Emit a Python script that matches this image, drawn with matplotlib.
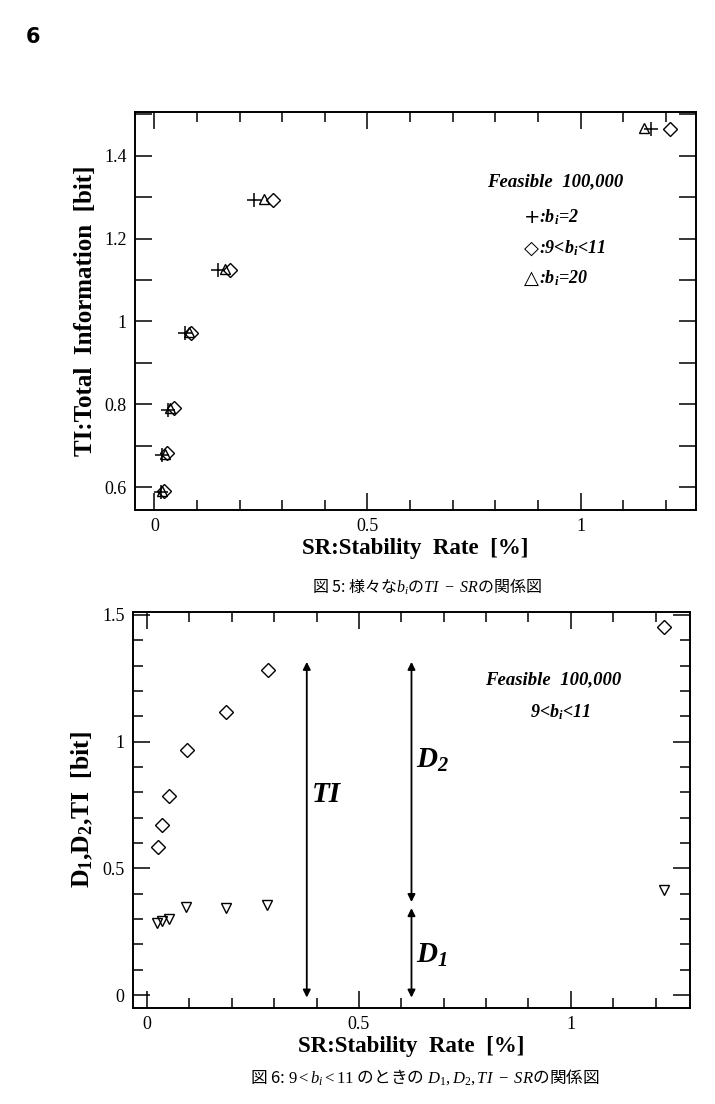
import matplotlib
matplotlib.use('Agg')
import matplotlib.pyplot as plt
from matplotlib.ticker import MultipleLocator

plt.rcParams['font.family'] = ['Liberation Serif', 'DejaVu Sans']
plt.rcParams['mathtext.fontset'] = 'custom'
plt.rcParams['mathtext.rm'] = 'Liberation Serif'
plt.rcParams['mathtext.it'] = 'Liberation Serif:italic'
plt.rcParams['mathtext.bf'] = 'Liberation Serif:bold'
plt.rcParams['mathtext.bfit'] = 'Liberation Serif:bold:italic'

# Fig. 5: TI vs SR for several b_i
plus_sr = [0.016, 0.019, 0.033, 0.073, 0.150, 0.235, 1.164]
plus_ti = [0.588, 0.678, 0.787, 0.972, 1.124, 1.294, 1.465]
tri_sr = [0.018, 0.024, 0.036, 0.082, 0.165, 0.257, 1.148]
tri_ti = [0.590, 0.680, 0.790, 0.974, 1.126, 1.296, 1.467]
dia_sr = [0.022, 0.030, 0.047, 0.087, 0.178, 0.278, 1.209]
dia_ti = [0.592, 0.682, 0.790, 0.973, 1.124, 1.294, 1.465]

# Fig. 6: D1, D2, TI vs SR for 9 < b_i < 11
sr6 = [0.025, 0.035, 0.053, 0.094, 0.186, 0.285, 1.220]
ti6 = [0.584, 0.671, 0.786, 0.967, 1.117, 1.283, 1.453]
d1_sr = [0.024, 0.035, 0.053, 0.092, 0.186, 0.282, 1.219]
d1 = [0.284, 0.292, 0.300, 0.347, 0.343, 0.355, 0.415]

# explanatory arrows (x, y_from, y_to)
ti_arrow = (0.377, -0.01, 1.315)
d2_arrow = (0.624, 0.367, 1.315)
d1_arrow = (0.624, -0.01, 0.343)

fig = plt.figure(figsize=(7.15, 11.04), dpi=100)

def style(ax):
    for s in ax.spines.values():
        s.set_linewidth(1.4)
    ax.tick_params(which='both', direction='in', top=True, right=True,
                   labelsize=13, pad=6, width=1.1)
    ax.tick_params(which='major', length=12)
    ax.tick_params(which='minor', length=7)

# ---- top chart
ax1 = fig.add_axes([0.189, 0.538, 0.784, 0.3605])
ax1.plot(plus_sr, plus_ti, '+', ms=10, mew=1.1, color='black')
ax1.plot(tri_sr, tri_ti, '^', ms=7.5, mfc='none', mec='black', mew=1.0)
ax1.plot(dia_sr, dia_ti, 'D', ms=7, mfc='none', mec='black', mew=1.0)
ax1.set_xlim(-0.045, 1.27)
ax1.set_ylim(0.545, 1.505)
ax1.xaxis.set_major_locator(MultipleLocator(0.5))
ax1.xaxis.set_minor_locator(MultipleLocator(0.1))
ax1.yaxis.set_major_locator(MultipleLocator(0.2))
ax1.yaxis.set_minor_locator(MultipleLocator(0.1))
style(ax1)
ax1.tick_params(axis='y', which='minor', length=12)
ax1.set_xticks([0, 0.5, 1])
ax1.set_xticklabels(['0', '0.5', '1'])
ax1.set_yticks([0.6, 0.8, 1.0, 1.2, 1.4])
ax1.set_yticklabels(['0.6', '0.8', '1', '1.2', '1.4'])
ax1.set_xlabel('SR:Stability  Rate  [%]', fontsize=16.5, fontweight='bold', labelpad=2)
ax1.set_ylabel('TI:Total  Information  [bit]', fontsize=18, fontweight='bold', labelpad=5)

ax1.text(0.75, 0.824, 'Feasible  100,000', transform=ax1.transAxes, ha='center',
         va='center', fontsize=13.5, fontweight='bold', style='italic')
leg_syms = ['+', '◇', '△']
leg_lines = [r':$\mathbfit{b}_\mathbfit{i}$=2',
             r':9<$\mathbfit{b}_\mathbfit{i}$<11',
             r':$\mathbfit{b}_\mathbfit{i}$=20']
for sym, txt, yy in zip(leg_syms, leg_lines, [0.736, 0.658, 0.583]):
    ax1.text(0.693, yy, sym, transform=ax1.transAxes, ha='left', va='center',
             fontsize=14, family=['DejaVu Sans', 'Noto Sans CJK JP'])
    ax1.text(0.720, yy, txt, transform=ax1.transAxes, ha='left', va='center',
             fontsize=13, fontweight='bold', style='italic')

# ---- bottom chart
ax2 = fig.add_axes([0.186, 0.087, 0.779, 0.3587])
ax2.plot(sr6, ti6, 'D', ms=7, mfc='none', mec='black', mew=1.0)
ax2.plot(d1_sr, d1, 'v', ms=7.5, mfc='none', mec='black', mew=1.0)
ax2.set_xlim(-0.033, 1.281)
ax2.set_ylim(-0.051, 1.512)
ax2.xaxis.set_major_locator(MultipleLocator(0.5))
ax2.xaxis.set_minor_locator(MultipleLocator(0.1))
ax2.yaxis.set_major_locator(MultipleLocator(0.5))
ax2.yaxis.set_minor_locator(MultipleLocator(0.1))
style(ax2)
ax2.set_xticks([0, 0.5, 1])
ax2.set_xticklabels(['0', '0.5', '1'])
ax2.set_yticks([0, 0.5, 1, 1.5])
ax2.set_yticklabels(['0', '0.5', '1', '1.5'])
ax2.set_xlabel('SR:Stability  Rate  [%]', fontsize=16.5, fontweight='bold', labelpad=2)
ax2.set_ylabel(r'D$_\mathbf{1}$,D$_\mathbf{2}$,TI  [bit]', fontsize=18.5,
               fontweight='bold', labelpad=5)

for xa, y0, y1 in [ti_arrow, d2_arrow, d1_arrow]:
    ax2.annotate('', xy=(xa, y1), xytext=(xa, y0),
                 arrowprops=dict(arrowstyle='<|-|>', lw=1.3, color='black',
                                 mutation_scale=11, shrinkA=0, shrinkB=0))
ax2.text(0.39, 0.79, 'TI', fontsize=21, fontweight='bold', style='italic',
         ha='left', va='center')
ax2.text(0.634, 0.928, r'D$_\mathbfit{2}$', fontsize=21, fontweight='bold',
         style='italic', ha='left', va='center')
ax2.text(0.634, 0.158, r'D$_\mathbfit{1}$', fontsize=21, fontweight='bold',
         style='italic', ha='left', va='center')
ax2.text(0.754, 0.828, 'Feasible  100,000', transform=ax2.transAxes, ha='center',
         va='center', fontsize=13.5, fontweight='bold', style='italic')
ax2.text(0.767, 0.747, r'9<$\mathbfit{b}_\mathbfit{i}$<11', transform=ax2.transAxes,
         ha='center', va='center', fontsize=13, fontweight='bold', style='italic')

# page number and captions
fig.text(33 / 715, 1 - 37 / 1104, '6', fontsize=15, fontweight='bold',
         family='DejaVu Sans', ha='center', va='center')
cap_font = ['Noto Sans CJK JP', 'DejaVu Sans']
fig.text(427 / 715, 1 - 587 / 1104, r'図 5: 様々な$b_i$の$TI\ -\ SR$の関係図',
         fontsize=11.5, family=cap_font, ha='center', va='center')
fig.text(425 / 715, 1 - 1077 / 1104,
         r'図 6: $9 < b_i < 11$ のときの $D_1, D_2, TI\ -\ SR$の関係図',
         fontsize=12, family=cap_font, ha='center', va='center')

fig.savefig('out.png', dpi=100)
